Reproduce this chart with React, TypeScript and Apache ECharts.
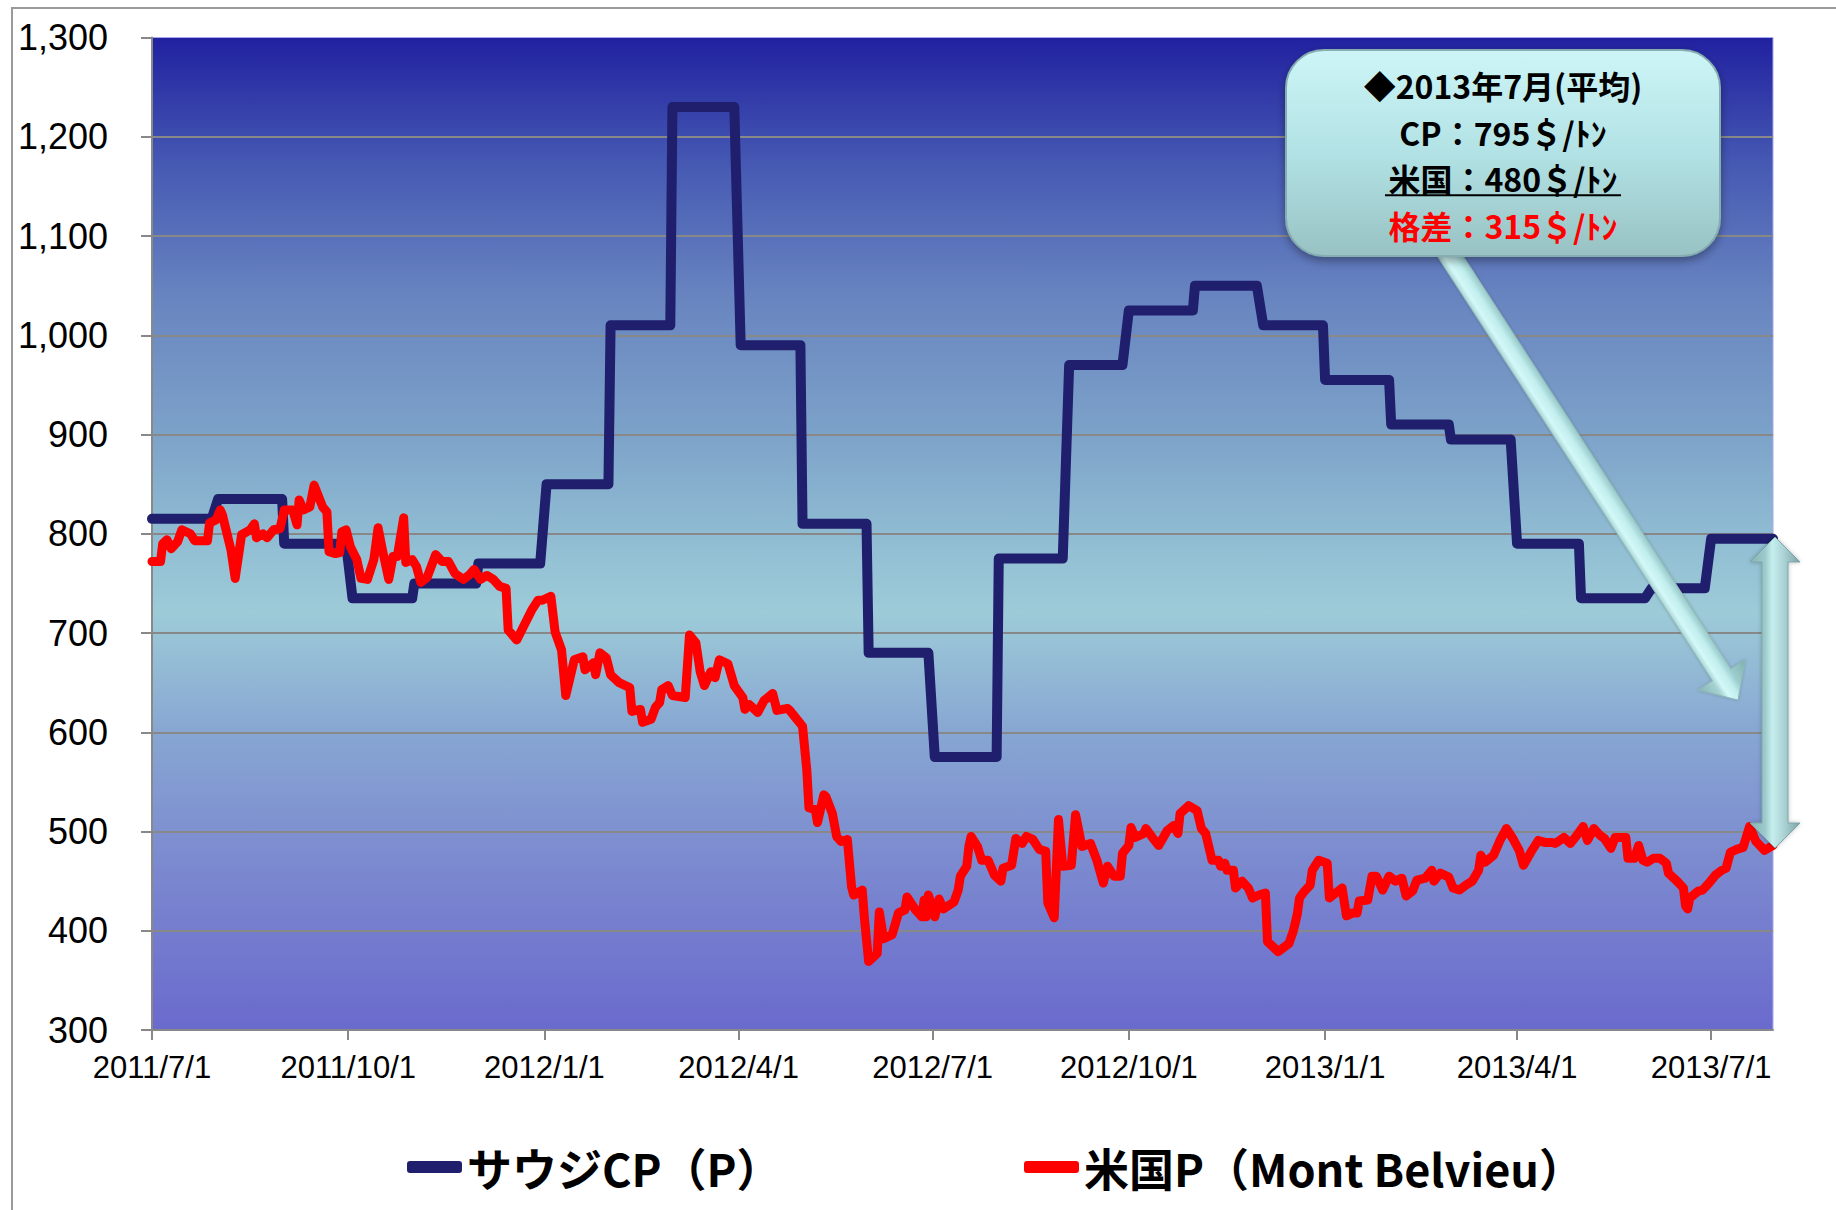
import React, { useEffect, useRef } from 'react';
import * as echarts from 'echarts';

// ---------------- data ----------------
const START_DATE = [2011, 7, 1];
const END_DATE = [2013, 7, 30];
const xTickLabels = ['2011/7/1', '2011/10/1', '2012/1/1', '2012/4/1', '2012/7/1', '2012/10/1', '2013/1/1', '2013/4/1', '2013/7/1'];
const yMin = 300;
const yMax = 1300;
const yStep = 100;

const seriesNames = ['サウジCP（P）', '米国P（Mont Belvieu）'];

// Saudi CP propane, monthly ($/t)
const cpMonths = ['2011-07', '2011-08', '2011-09', '2011-10', '2011-11', '2011-12',
  '2012-01', '2012-02', '2012-03', '2012-04', '2012-05', '2012-06', '2012-07', '2012-08', '2012-09', '2012-10', '2012-11', '2012-12',
  '2013-01', '2013-02', '2013-03', '2013-04', '2013-05', '2013-06', '2013-07'];
const cpValues = [815, 835, 790, 735, 750, 770,
  850, 1010, 1230, 990, 810, 680, 575, 775, 970, 1025, 1050, 1010,
  955, 910, 895, 790, 735, 745, 795];

// US propane (Mont Belvieu), days since 2011/7/1 and $/t
const usDayIndex = [
  0, 4, 5, 7, 9, 12, 14, 18, 20, 26, 27, 30, 32, 33, 37, 39, 42, 46, 48, 49, 52, 54, 57, 60, 62, 66, 68, 69, 71, 74, 76, 80, 82, 83, 86, 88, 89, 91, 93, 96, 98, 101, 104, 106, 108, 111, 113, 115, 118, 119, 122, 124, 126, 129, 133, 136, 139, 142, 146, 149, 151, 154,
  157, 160, 163, 166, 167, 171, 175, 178, 181, 183, 187, 189, 192, 194, 198, 202, 203, 207, 208, 210, 213, 215, 219, 224, 225, 229, 230, 234, 236, 238, 239, 242, 244, 250, 252, 255, 257, 259, 262, 264, 266, 270, 273, 277, 278, 280, 284, 287, 291, 293, 298,
  299, 302, 305, 307, 308, 311, 312, 315, 316, 319, 321, 323, 326, 328, 329, 333, 334, 336, 340, 341, 343, 347, 350, 353, 354, 358, 361, 362, 363, 364, 367, 369, 371, 376, 378, 379, 382, 383, 384, 387, 389, 392, 395, 398, 399, 403, 405, 408, 410, 413, 416, 419, 420, 423, 425, 427, 431, 433, 436, 440, 443, 446, 448, 451, 454, 455,
  458, 459, 461, 465, 466, 469, 472, 476, 479, 481, 482, 486, 490, 492, 494, 497, 500, 501, 503, 504, 507, 508, 511, 514, 516, 519, 522, 523, 528, 533, 535, 537, 538, 540, 543, 544, 547, 551, 552, 555, 558, 560, 563, 565, 566, 570, 572, 574, 577, 580, 583, 586, 588, 591, 593, 597, 600, 601, 604, 608,
  610, 613, 616, 619, 622, 623, 625, 629, 632, 635, 638, 641, 643, 647, 650, 653, 656, 658, 662, 665, 668, 671, 673, 676, 679, 681, 684, 686, 691, 692, 695, 697, 699, 701, 704, 707, 710, 711, 715, 718, 719, 720, 721, 725, 727, 730, 733, 736, 738, 740, 743, 746, 749, 752, 756, 760];
const usValues = [
  772, 772, 790, 794, 785, 792, 804, 800, 793, 793, 811, 814, 824, 819, 784, 755, 799, 804, 810, 796, 800, 796, 804, 805, 824, 824, 809, 834, 824, 827, 849, 827, 822, 782, 780, 781, 802, 804, 787, 774, 755, 754, 774, 806, 784, 754, 777, 777, 816, 771, 774, 767, 751, 756, 779, 772, 772, 760, 754, 759, 764, 754,
  758, 754, 747, 745, 703, 693, 710, 723, 733, 733, 737, 701, 683, 637, 673, 676, 663, 670, 658, 680, 675, 658, 650, 645, 621, 623, 610, 613, 625, 630, 643, 647, 637, 635, 698, 690, 661, 647, 661, 655, 673, 669, 647, 635, 623, 628, 620, 632, 639, 622, 624,
  622, 614, 606, 562, 524, 522, 509, 537, 535, 518, 495, 490, 492, 444, 436, 441, 413, 369, 377, 419, 392, 396, 418, 421, 434, 421, 414, 431, 414, 436, 414, 432, 422, 429, 441, 455, 465, 485, 495, 485, 471, 471, 456, 450, 463, 466, 493, 488, 495, 492, 482, 480, 428, 413, 512, 465, 466, 517, 485, 488, 471, 448, 465, 455, 455, 478,
  486, 504, 494, 498, 503, 494, 486, 501, 506, 498, 518, 526, 521, 503, 498, 471, 471, 465, 468, 461, 461, 443, 450, 443, 433, 436, 438, 389, 379, 387, 399, 417, 433, 439, 446, 461, 471, 468, 433, 438, 443, 415, 418, 418, 430, 431, 455, 455, 441, 455, 450, 453, 435, 440, 451, 453, 461, 450, 458, 454,
  443, 441, 446, 450, 461, 476, 469, 476, 491, 503, 493, 481, 466, 481, 491, 489, 489, 488, 494, 488, 496, 505, 491, 503, 496, 493, 483, 494, 494, 473, 473, 486, 471, 469, 473, 473, 468, 458, 450, 443, 425, 422, 433, 440, 441, 448, 456, 461, 463, 479, 482, 484, 505, 490, 481, 486];

const noteLines = ['◆2013年7月(平均)', 'CP：795＄/ﾄﾝ', '米国：480＄/ﾄﾝ', '格差：315＄/ﾄﾝ'];
const noteColors = ['#000000', '#000000', '#000000', '#ff0000'];

// ---------------- helpers ----------------
const DAY_MS = 86400000;
const t0 = Date.UTC(START_DATE[0], START_DATE[1] - 1, START_DATE[2]);
const dayIdx = (y: number, m: number, d: number) => Math.round((Date.UTC(y, m - 1, d) - t0) / DAY_MS);
const endIdx = dayIdx(END_DATE[0], END_DATE[1], END_DATE[2]);

const categories: string[] = [];
for (let i = 0; i <= endIdx; i++) {
  const dt = new Date(t0 + i * DAY_MS);
  categories.push(`${dt.getUTCFullYear()}/${dt.getUTCMonth() + 1}/${dt.getUTCDate()}`);
}

const isWeekend = (y: number, m: number, d: number) => {
  const wd = new Date(Date.UTC(y, m - 1, d)).getUTCDay();
  return wd === 0 || wd === 6;
};

const cpData: number[][] = [];
cpMonths.forEach((ms, k) => {
  const [y, m] = ms.split('-').map(Number);
  let d1 = 1;
  while (isWeekend(y, m, d1)) d1++;
  const lastDay = new Date(Date.UTC(y, m, 0)).getUTCDate();
  let d2 = lastDay;
  while (isWeekend(y, m, d2)) d2--;
  let first = Math.max(0, dayIdx(y, m, d1));
  if (k === 0) first = 0;
  let last = Math.min(endIdx, dayIdx(y, m, d2));
  if (k === cpMonths.length - 1) last = endIdx;
  cpData.push([first, cpValues[k]], [last, cpValues[k]]);
});

const usData = usDayIndex.map((d, i) => [d, usValues[i]]);

function arrowSingle(x1: number, y1: number, x2: number, y2: number, w: number, hw: number, hl: number) {
  const dx = x2 - x1, dy = y2 - y1;
  const L = Math.hypot(dx, dy);
  const ux = dx / L, uy = dy / L;
  const nx = -uy, ny = ux;
  const bx = x2 - ux * hl, by = y2 - uy * hl;
  return [
    [x1 + nx * w / 2, y1 + ny * w / 2],
    [bx + nx * w / 2, by + ny * w / 2],
    [bx + nx * hw / 2, by + ny * hw / 2],
    [x2, y2],
    [bx - nx * hw / 2, by - ny * hw / 2],
    [bx - nx * w / 2, by - ny * w / 2],
    [x1 - nx * w / 2, y1 - ny * w / 2],
  ];
}

function arrowDouble(x1: number, y1: number, x2: number, y2: number, w: number, hw: number, hl: number) {
  const dx = x2 - x1, dy = y2 - y1;
  const L = Math.hypot(dx, dy);
  const ux = dx / L, uy = dy / L;
  const nx = -uy, ny = ux;
  const b1x = x1 + ux * hl, b1y = y1 + uy * hl;
  const b2x = x2 - ux * hl, b2y = y2 - uy * hl;
  return [
    [x1, y1],
    [b1x + nx * hw / 2, b1y + ny * hw / 2],
    [b1x + nx * w / 2, b1y + ny * w / 2],
    [b2x + nx * w / 2, b2y + ny * w / 2],
    [b2x + nx * hw / 2, b2y + ny * hw / 2],
    [x2, y2],
    [b2x - nx * hw / 2, b2y - ny * hw / 2],
    [b2x - nx * w / 2, b2y - ny * w / 2],
    [b1x - nx * w / 2, b1y - ny * w / 2],
    [b1x - nx * hw / 2, b1y - ny * hw / 2],
  ];
}

const CJK = '"Noto Sans CJK JP", "Noto Sans CJK SC", sans-serif';
const LATIN = '"Liberation Sans", Arial, sans-serif';

export default function App() {
  const ref = useRef<HTMLDivElement>(null);

  useEffect(() => {
    document.body.style.margin = '0';
    if (!ref.current) return;
    const chart = echarts.init(ref.current, undefined, { renderer: 'svg' });

    const plotBg = new echarts.graphic.LinearGradient(0, 0, 0, 1, [
      { offset: 0, color: '#2121a0' },
      { offset: 0.13, color: '#465ab3' },
      { offset: 0.26, color: '#6884c0' },
      { offset: 0.39, color: '#7ba0c8' },
      { offset: 0.52, color: '#93c0d4' },
      { offset: 0.58, color: '#9dcbd8' },
      { offset: 0.7, color: '#87a6d2' },
      { offset: 0.85, color: '#7a86cf' },
      { offset: 1, color: '#6a6acd' },
    ]);

    // diagonal arrow: gradient across the shaft (global coords)
    const ax1 = 1443, ay1 = 245, ax2 = 1738, ay2 = 700;
    const aL = Math.hypot(ax2 - ax1, ay2 - ay1);
    const anx = -(ay2 - ay1) / aL, any = (ax2 - ax1) / aL;
    const amx = (ax1 + ax2) / 2, amy = (ay1 + ay2) / 2;
    const arrowFillDiag = new echarts.graphic.LinearGradient(
      amx - anx * 28, amy - any * 28, amx + anx * 28, amy + any * 28,
      [
        { offset: 0, color: '#7fb0b0' },
        { offset: 0.32, color: '#9ccccc' },
        { offset: 0.45, color: '#c2eeee' },
        { offset: 0.6, color: '#d4f8f8' },
        { offset: 0.7, color: '#a6d2d2' },
        { offset: 1, color: '#86b4b4' },
      ],
      true,
    );
    const arrowFillVert = new echarts.graphic.LinearGradient(0, 0, 1, 0, [
      { offset: 0, color: '#86b4b6' },
      { offset: 0.3, color: '#9ccaca' },
      { offset: 0.45, color: '#c6eeee' },
      { offset: 0.7, color: '#a8d0d2' },
      { offset: 1, color: '#7aa2a4' },
    ]);
    const boxFill = new echarts.graphic.LinearGradient(0, 0, 0, 1, [
      { offset: 0, color: '#cdf5f7' },
      { offset: 0.5, color: '#b2e2e5' },
      { offset: 1, color: '#98c2c3' },
    ]);

    const NOTE_FS = 32;
    const NOTE_STEP = 46.5;
    const NOTE_CY = 155;
    const noteY = noteLines.map((_t, i) => NOTE_CY + (i - 1.5) * NOTE_STEP);
    const noteTexts = noteLines.map((t, i) => ({
      type: 'text',
      x: 1503,
      y: noteY[i],
      z: 120,
      silent: true,
      style: {
        text: t,
        fill: noteColors[i],
        fontSize: NOTE_FS,
        fontWeight: 'bold',
        fontFamily: CJK,
        textAlign: 'center',
        align: 'center',
        textVerticalAlign: 'middle',
        verticalAlign: 'middle',
      },
    }));

    const option: any = {
      animation: false,
      backgroundColor: '#ffffff',
      grid: {
        left: 152,
        right: 63,
        top: 37.5,
        bottom: 180,
        show: true,
        backgroundColor: plotBg,
        borderColor: '#a8a8ee',
        borderWidth: 1,
        containLabel: false,
        outerBoundsMode: 'none',
      },
      xAxis: {
        type: 'category',
        data: categories,
        boundaryGap: false,
        axisLine: { show: true, lineStyle: { color: '#888888', width: 2 } },
        axisTick: {
          show: true,
          length: 10,
          interval: (_i: number, v: string) => xTickLabels.includes(v),
          lineStyle: { color: '#888888', width: 2 },
        },
        axisLabel: {
          interval: (_i: number, v: string) => xTickLabels.includes(v),
          fontSize: 31,
          color: '#000000',
          fontFamily: LATIN,
          margin: 22,
        },
        splitLine: { show: false },
      },
      yAxis: {
        type: 'value',
        min: yMin,
        max: yMax,
        interval: yStep,
        axisLine: { show: true, lineStyle: { color: '#888888', width: 2 } },
        axisTick: { show: true, length: 11, lineStyle: { color: '#888888', width: 2 } },
        axisLabel: {
          fontSize: 36,
          color: '#000000',
          fontFamily: LATIN,
          margin: 44,
          formatter: (v: number) => v.toLocaleString('en-US'),
        },
        splitLine: { show: true, showMaxLine: false, showMinLine: false, lineStyle: { color: '#888888', width: 2 } },
      },
      legend: [
        {
          data: [seriesNames[0]],
          left: 402,
          top: 1136,
          icon: 'roundRect',
          itemWidth: 55,
          itemHeight: 12,
          selectedMode: false,
          textStyle: { fontSize: 45, fontWeight: 'bold', fontFamily: CJK, color: '#000000', lineHeight: 52 },
        },
        {
          data: [seriesNames[1]],
          left: 1019,
          top: 1136,
          icon: 'roundRect',
          itemWidth: 55,
          itemHeight: 12,
          selectedMode: false,
          textStyle: { fontSize: 45, fontWeight: 'bold', fontFamily: CJK, color: '#000000', lineHeight: 52 },
        },
      ],
      series: [
        {
          name: seriesNames[0],
          type: 'line',
          data: cpData,
          symbol: 'none',
          color: '#1f1f6e',
          lineStyle: { width: 10, color: '#1f1f6e', cap: 'round', join: 'round' },
          z: 2,
        },
        {
          name: seriesNames[1],
          type: 'line',
          data: usData,
          symbol: 'none',
          color: '#ff0000',
          lineStyle: { width: 9, color: '#ff0000', cap: 'round', join: 'round' },
          z: 3,
        },
      ],
      graphic: [
        {
          type: 'rect',
          silent: true,
          z: 0,
          shape: { x: 12, y: 8, width: 1900, height: 1300 },
          style: { fill: 'none', stroke: '#9a9a9a', lineWidth: 2 },
        },
        {
          type: 'polygon',
          silent: true,
          z: 100,
          shape: { points: arrowSingle(ax1, ay1, ax2, ay2, 22, 56, 30) },
          style: { fill: arrowFillDiag, stroke: '#8fb6b7', lineWidth: 1, shadowBlur: 3, shadowColor: 'rgba(0,0,0,0.2)' },
        },
        {
          type: 'polygon',
          silent: true,
          z: 100,
          shape: { points: arrowDouble(1775, 537, 1775, 848, 26, 50, 25) },
          style: { fill: arrowFillVert, stroke: '#7ea6a8', lineWidth: 1, shadowBlur: 4, shadowColor: 'rgba(0,0,0,0.25)' },
        },
        {
          type: 'rect',
          silent: true,
          z: 110,
          shape: { x: 1286, y: 50, width: 434, height: 206, r: 38 },
          style: {
            fill: boxFill,
            stroke: '#86aeb0',
            lineWidth: 2,
            shadowBlur: 10,
            shadowOffsetY: 4,
            shadowColor: 'rgba(0,0,0,0.35)',
          },
        },
        ...noteTexts,
        {
          type: 'line',
          silent: true,
          z: 121,
          shape: { x1: 1385, y1: noteY[2] + 17, x2: 1621, y2: noteY[2] + 17 },
          style: { stroke: '#000000', lineWidth: 2 },
        },
      ],
    };

    chart.setOption(option);
    return () => chart.dispose();
  }, []);

  return <div ref={ref} style={{ width: 1836, height: 1210 }} />;
}
